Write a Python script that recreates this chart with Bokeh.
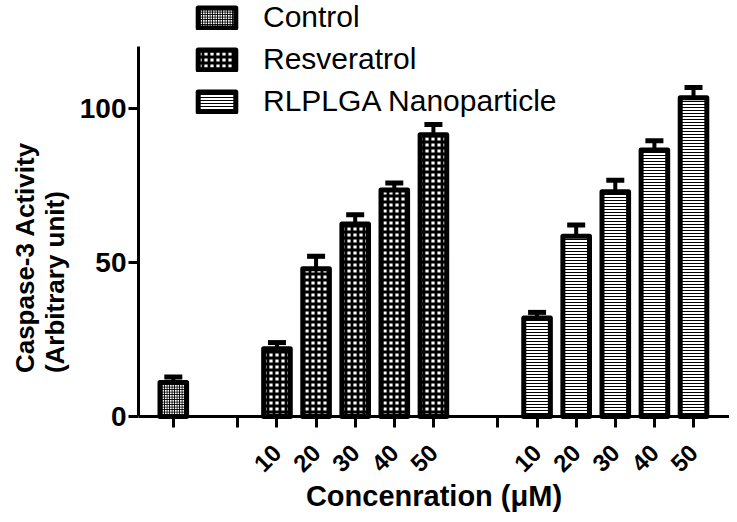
import math
from bokeh.plotting import figure
from bokeh.models import (ColumnDataSource, FixedTicker, Whisker, TeeHead, Legend,
                          LegendItem, Range1d, Title)
from bokeh.embed import file_html
from bokeh.resources import INLINE

# ---------------- data ----------------
concentration_labels = ["10", "20", "30", "40", "50"]
control_mean = [11.0]
control_err = [1.8]
resveratrol_mean = [22.0, 48.0, 62.5, 73.5, 91.5]
resveratrol_err = [2.0, 4.0, 3.0, 2.3, 3.3]
rlplga_mean = [32.0, 58.5, 73.0, 86.5, 103.5]
rlplga_err = [1.8, 3.7, 3.7, 3.0, 3.3]
series_names = ["Control", "Resveratrol", "RLPLGA Nanoparticle"]
y_ticks = [0, 50, 100]
y_axis_max = 120
y_title = "Caspase-3 Activity\n(Arbitrary unit)"
x_title = "Concenration (\u03bcM)"

# ---------------- slot layout ----------------
group_gap = 1.65
ctrl_x = [0.0]
gap1_x = ctrl_x[-1] + group_gap
res_x = [gap1_x + 1 + i for i in range(len(resveratrol_mean))]
gap2_x = res_x[-1] + group_gap
rl_x = [gap2_x + 1 + i for i in range(len(rlplga_mean))]

p = figure(width=729, height=514, output_backend="svg", toolbar_location=None,
           x_range=Range1d(-0.89, 14.22), y_range=Range1d(-31.82, 135.06),
           min_border_left=135, min_border_right=0, min_border_top=0, min_border_bottom=0)
p.outline_line_color = None
p.grid.visible = False
p.background_fill_color = "white"

FONT = "Liberation Sans"


def add_series(xs, means, errs, pattern, scale, weight):
    src = ColumnDataSource(dict(x=xs, mean=means, upper=[m + e for m, e in zip(means, errs)]))
    w = Whisker(source=src, base="x", upper="upper", lower="mean", line_color="black",
                line_width=4, lower_head=None,
                upper_head=TeeHead(size=18, line_width=5, line_color="black"))
    p.add_layout(w)
    r = p.vbar(x="x", top="mean", bottom=0, width=0.68, source=src, fill_color="white",
               line_color="black", line_width=5, line_join="round",
               hatch_pattern=pattern, hatch_color="black", hatch_scale=scale, hatch_weight=weight)
    return r


r_ctrl = add_series(ctrl_x, control_mean, control_err, "cross", 2.5, 1.2)
r_res = add_series(res_x, resveratrol_mean, resveratrol_err, "cross", 6.0, 2.8)
r_rl = add_series(rl_x, rlplga_mean, rlplga_err, "horizontal_line", 3.0, 1.0)

# ---------------- axes ----------------
all_ticks = ctrl_x + [gap1_x] + res_x + [gap2_x] + rl_x
overrides = {t: "" for t in all_ticks}
for t, lab in zip(res_x, concentration_labels):
    overrides[t] = lab
for t, lab in zip(rl_x, concentration_labels):
    overrides[t] = lab

xa = p.xaxis[0]
xa.fixed_location = 0
xa.ticker = FixedTicker(ticks=all_ticks)
xa.major_label_overrides = overrides
xa.major_label_orientation = math.pi / 4
xa.major_label_text_font = FONT
xa.major_label_text_font_style = "bold"
xa.major_label_text_font_size = "24px"
xa.major_label_text_color = "black"
xa.major_label_standoff = 21
xa.minor_tick_line_color = None
xa.major_tick_in = 0
xa.major_tick_out = 11
xa.major_tick_line_width = 3
xa.axis_line_width = 3
xa.axis_label = x_title
xa.axis_label_text_font = FONT
xa.axis_label_text_font_style = "bold"
xa.axis_label_text_font_size = "29px"
xa.axis_label_text_color = "black"
xa.axis_label_standoff = -2

ya = p.yaxis[0]
ya.ticker = FixedTicker(ticks=y_ticks)
ya.bounds = (0, y_axis_max)
ya.major_label_text_font = FONT
ya.major_label_text_font_style = "bold"
ya.major_label_text_font_size = "28px"
ya.major_label_text_color = "black"
ya.major_label_standoff = 2
ya.minor_tick_line_color = None
ya.major_tick_in = 0
ya.major_tick_out = 10
ya.major_tick_line_width = 3
ya.axis_line_width = 3

p.add_layout(Title(text=y_title, align="center", standoff=14,
                   text_font=FONT, text_font_style="bold", text_font_size="26px",
                   text_color="black"), "left")

# ---------------- legend ----------------
legend = Legend(items=[LegendItem(label=n, renderers=[r]) for n, r in zip(series_names, [r_ctrl, r_res, r_rl])],
                location=(55, 396), orientation="vertical",
                label_text_font=FONT, label_text_font_size="30px", label_text_color="black",
                glyph_width=47, glyph_height=25, label_standoff=23, spacing=8,
                padding=0, margin=0, border_line_color=None, background_fill_alpha=0)
p.add_layout(legend)

open("out.html", "w").write(file_html(p, INLINE))
